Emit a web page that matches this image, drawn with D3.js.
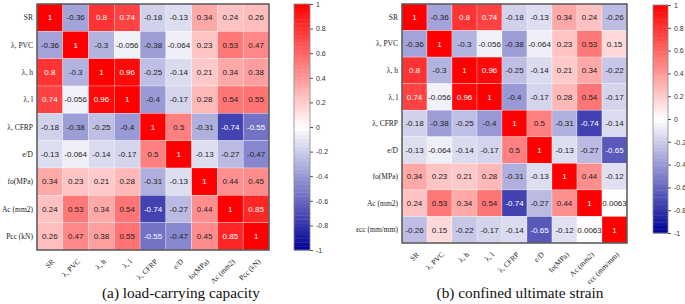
<!DOCTYPE html>
<html>
<head>
<meta charset="utf-8">
<script src="https://cdn.jsdelivr.net/npm/d3@7"></script>
<style>
  body { margin: 0; background: #fff; }
  svg { display: block; }
</style>
</head>
<body>
<div id="canvas"></div>
<script>
// Variable names for each panel.
const varsA = ["SR", "λ, PVC", "λ, h", "λ, l", "λ, CFRP", "e/D", "fo(MPa)", "Ac (mm2)", "Pcc (kN)"];
const varsB = ["SR", "λ, PVC", "λ, h", "λ, l", "λ, CFRP", "e/D", "fo(MPa)", "Ac (mm2)", "εcc (mm/mm)"];

// Correlation matrix (a) load-carrying capacity.
const corrA = [
    [1, -0.36, 0.8, 0.74, -0.18, -0.13, 0.34, 0.24, 0.26],
    [-0.36, 1, -0.3, -0.056, -0.38, -0.064, 0.23, 0.53, 0.47],
    [0.8, -0.3, 1, 0.96, -0.25, -0.14, 0.21, 0.34, 0.38],
    [0.74, -0.056, 0.96, 1, -0.4, -0.17, 0.28, 0.54, 0.55],
    [-0.18, -0.38, -0.25, -0.4, 1, 0.5, -0.31, -0.74, -0.55],
    [-0.13, -0.064, -0.14, -0.17, 0.5, 1, -0.13, -0.27, -0.47],
    [0.34, 0.23, 0.21, 0.28, -0.31, -0.13, 1, 0.44, 0.45],
    [0.24, 0.53, 0.34, 0.54, -0.74, -0.27, 0.44, 1, 0.85],
    [0.26, 0.47, 0.38, 0.55, -0.55, -0.47, 0.45, 0.85, 1]
];

// Correlation matrix (b) confined ultimate strain.
const corrB = [
    [1, -0.36, 0.8, 0.74, -0.18, -0.13, 0.34, 0.24, -0.26],
    [-0.36, 1, -0.3, -0.056, -0.38, -0.064, 0.23, 0.53, 0.15],
    [0.8, -0.3, 1, 0.96, -0.25, -0.14, 0.21, 0.34, -0.22],
    [0.74, -0.056, 0.96, 1, -0.4, -0.17, 0.28, 0.54, -0.17],
    [-0.18, -0.38, -0.25, -0.4, 1, 0.5, -0.31, -0.74, -0.14],
    [-0.13, -0.064, -0.14, -0.17, 0.5, 1, -0.13, -0.27, -0.65],
    [0.34, 0.23, 0.21, 0.28, -0.31, -0.13, 1, 0.44, -0.12],
    [0.24, 0.53, 0.34, 0.54, -0.74, -0.27, 0.44, 1, 0.0063],
    [-0.26, 0.15, -0.22, -0.17, -0.14, -0.65, -0.12, 0.0063, 1]
];

// Colour bar tick values.
const barTicks = [1, 0.8, 0.6, 0.4, 0.2, 0, -0.2, -0.4, -0.6, -0.8, -1];

const captionA = "(a) load-carrying capacity";
const captionB = "(b) confined ultimate strain";

const w = 685, h = 304;
const serif = "'Liberation Serif', 'Times New Roman', serif";
const sans = "'Liberation Sans', Arial, sans-serif";

const color = d3.scaleLinear()
    .domain([-1, 0, 1])
    .range(["#000096", "#ffffff", "#ff0000"]);

// Dark cells get white labels.
function textColor(v) {
    const c = d3.rgb(color(v));
    const b = (0.299 * c.r + 0.587 * c.g + 0.114 * c.b) / 255;
    return b < 0.52 ? "#fff" : "#222";
}

const svg = d3.select("#canvas")
    .append("svg")
    .attr("width", w)
    .attr("height", h);

function heatmap(opt) {
    const g = svg.append("g");
    const n = opt.vars.length;

    const x = d3.scaleBand().domain(d3.range(n)).range([opt.x0, opt.x1]);
    const y = d3.scaleBand().domain(d3.range(n)).range([opt.y0, opt.y1]);

    const cells = [];
    opt.data.forEach((row, i) => row.forEach((v, j) => cells.push({ i, j, v })));

    g.selectAll("rect.cell")
        .data(cells)
        .enter()
        .append("rect")
        .attr("class", "cell")
        .attr("x", d => x(d.j))
        .attr("y", d => y(d.i))
        .attr("width", x.bandwidth())
        .attr("height", y.bandwidth())
        .attr("fill", d => color(d.v))
        .attr("stroke", "rgba(255,255,255,0.45)")
        .attr("stroke-width", 0.6);

    g.selectAll("text.val")
        .data(cells)
        .enter()
        .append("text")
        .attr("class", "val")
        .text(d => d.v)
        .attr("x", d => x(d.j) + x.bandwidth() / 2)
        .attr("y", d => y(d.i) + y.bandwidth() / 2)
        .attr("dy", "0.35em")
        .attr("text-anchor", "middle")
        .attr("font-family", sans)
        .attr("font-size", 8)
        .attr("fill", d => textColor(d.v));

    // Outer frame.
    g.append("rect")
        .attr("x", opt.x0)
        .attr("y", opt.y0)
        .attr("width", opt.x1 - opt.x0)
        .attr("height", opt.y1 - opt.y0)
        .attr("fill", "none")
        .attr("stroke", "#555")
        .attr("stroke-width", 1.5);

    // Row labels.
    g.selectAll("text.rowlab")
        .data(opt.vars)
        .enter()
        .append("text")
        .attr("class", "rowlab")
        .text(d => d)
        .attr("x", opt.x0 - 4)
        .attr("y", (d, i) => y(i) + y.bandwidth() / 2)
        .attr("dy", "0.35em")
        .attr("text-anchor", "end")
        .attr("font-family", serif)
        .attr("font-size", 7.5)
        .attr("fill", "#222");

    // Column labels, slanted.
    g.selectAll("text.collab")
        .data(opt.vars)
        .enter()
        .append("text")
        .attr("class", "collab")
        .text(d => d)
        .attr("text-anchor", "end")
        .attr("font-family", serif)
        .attr("font-size", 7.5)
        .attr("fill", "#222")
        .attr("transform", (d, i) => {
            const cx = x(i) + x.bandwidth() / 2 + 5;
            const cy = opt.y1 + 12;
            return `translate(${cx},${cy}) rotate(-45)`;
        });

    // Colour bar, drawn in bands.
    const cb = d3.scaleLinear().domain([-1, 1]).range([opt.cb.y1, opt.cb.y0]);
    const bands = d3.range(64).map(k => -1 + (k + 0.5) * 2 / 64);
    const bh = (opt.cb.y1 - opt.cb.y0) / 64;
    g.selectAll("rect.band")
        .data(bands)
        .enter()
        .append("rect")
        .attr("class", "band")
        .attr("x", opt.cb.x)
        .attr("y", d => cb(d) - bh / 2)
        .attr("width", opt.cb.w)
        .attr("height", bh + 0.4)
        .attr("fill", d => color(d));

    g.append("rect")
        .attr("x", opt.cb.x)
        .attr("y", opt.cb.y0)
        .attr("width", opt.cb.w)
        .attr("height", opt.cb.y1 - opt.cb.y0)
        .attr("fill", "none")
        .attr("stroke", "#888")
        .attr("stroke-width", 0.8);

    const axis = g.append("g")
        .attr("transform", `translate(${opt.cb.x + opt.cb.w},0)`)
        .call(d3.axisRight(cb)
            .tickValues(barTicks)
            .tickSize(3)
            .tickFormat(d => +d.toFixed(1)));
    axis.select(".domain").remove();
    axis.selectAll("line").attr("stroke", "#555");
    axis.selectAll("text")
        .attr("font-family", sans)
        .attr("font-size", 7)
        .attr("fill", "#333");

    svg.append("text")
        .text(opt.caption)
        .attr("x", opt.capX)
        .attr("y", 298)
        .attr("text-anchor", "middle")
        .attr("font-family", serif)
        .attr("font-size", 15.3)
        .attr("fill", "#111");
}

heatmap({
    vars: varsA, data: corrA,
    x0: 37, x1: 269, y0: 4, y1: 250,
    cb: { x: 294, w: 16, y0: 4, y1: 250 },
    caption: captionA, capX: 181
});

heatmap({
    vars: varsB, data: corrB,
    x0: 402, x1: 627, y0: 4, y1: 243,
    cb: { x: 653, w: 15, y0: 5, y1: 233 },
    caption: captionB, capX: 520
});
</script>
</body>
</html>
